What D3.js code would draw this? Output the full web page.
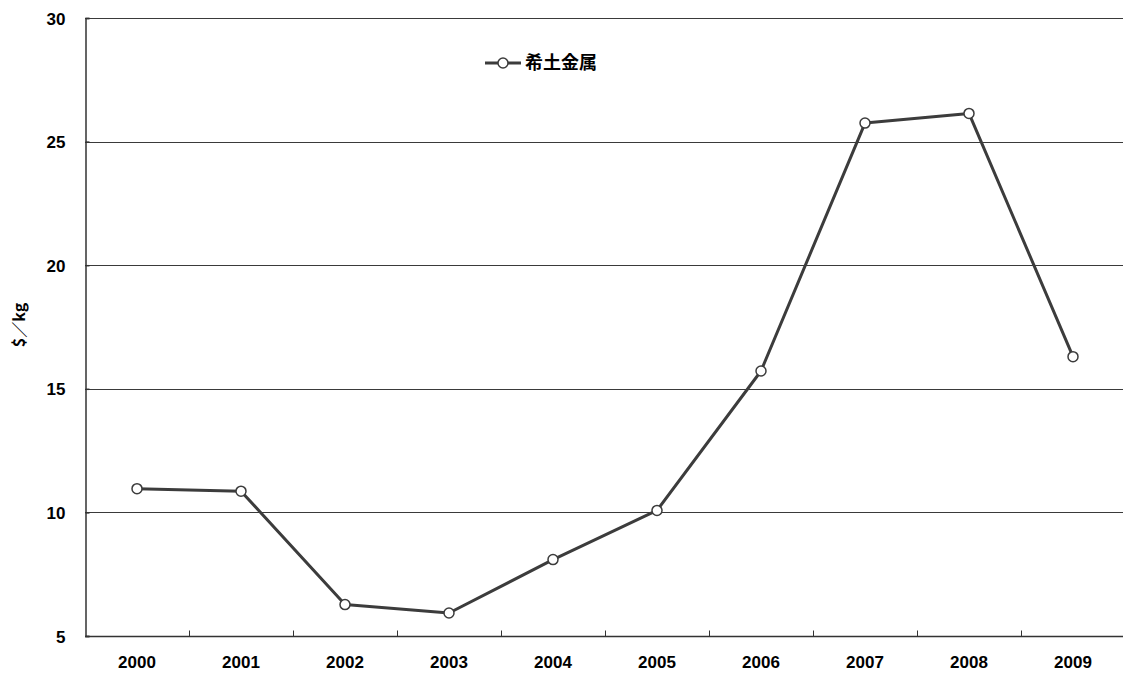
<!DOCTYPE html>
<html>
<head>
<meta charset="utf-8">
<script src="https://cdn.jsdelivr.net/npm/d3@7"></script>
<style>
  html, body { margin: 0; padding: 0; background: #fff; overflow: hidden; }
  svg { display: block; }
  .num { font-family: "Liberation Sans", Arial, sans-serif; font-weight: bold; font-size: 17px; fill: #000; }
  .cjk { font-family: "Noto Sans CJK JP", "Noto Sans CJK SC", sans-serif; font-weight: bold; fill: #000; }
</style>
</head>
<body>
<svg id="chart"></svg>
<script>
// Data
const years = ['2000', '2001', '2002', '2003', '2004', '2005', '2006', '2007', '2008', '2009'];
const prices = [10.96, 10.86, 6.27, 5.93, 8.09, 10.08, 15.72, 25.75, 26.14, 16.3];
const yTicks = [5, 10, 15, 20, 25, 30];
const seriesName = '希土金属';
const yLabel = '$／kg';

const width = 1123, height = 675;
const margin = { top: 18, right: -2, bottom: 39, left: 85 };

const svg = d3.select('#chart')
  .attr('width', width)
  .attr('height', height);

const x = d3.scaleBand()
  .domain(years)
  .range([margin.left, width - margin.right]);

const y = d3.scaleLinear()
  .domain([5, 30])
  .range([height - margin.bottom, margin.top]);

// Gridlines
svg.append('g')
  .selectAll('line')
  .data(yTicks.filter(d => d > 5))
  .join('line')
  .attr('x1', margin.left)
  .attr('x2', width)
  .attr('y1', d => Math.round(y(d)) + 0.5)
  .attr('y2', d => Math.round(y(d)) + 0.5)
  .attr('stroke', '#3a3a3a')
  .attr('stroke-width', 1);

// Y axis
const yAxis = svg.append('g')
  .attr('transform', `translate(${margin.left + 0.5},0)`)
  .call(d3.axisLeft(y).tickValues(yTicks).tickSize(-4).tickPadding(20));
yAxis.select('.domain').attr('stroke', '#333').attr('stroke-width', 1.5);
yAxis.selectAll('.tick line').attr('stroke', '#333').attr('stroke-width', 1.5);
yAxis.selectAll('.tick text').attr('class', 'num').attr('dy', '0.36em');

// X axis
const xTickPos = years.slice(1).map(d => x(d));
const xAxisG = svg.append('g')
  .attr('transform', `translate(0,${Math.round(y(5)) + 0.5})`);
xAxisG.append('line')
  .attr('x1', margin.left).attr('x2', width)
  .attr('stroke', '#333').attr('stroke-width', 1.5);
xAxisG.selectAll('.xtick')
  .data(xTickPos)
  .join('line')
  .attr('class', 'xtick')
  .attr('x1', d => Math.round(d) + 0.5).attr('x2', d => Math.round(d) + 0.5)
  .attr('y1', 0).attr('y2', -6)
  .attr('stroke', '#333').attr('stroke-width', 1);
xAxisG.selectAll('text')
  .data(years)
  .join('text')
  .attr('class', 'num')
  .attr('x', d => x(d) + x.bandwidth() / 2)
  .attr('y', 31)
  .attr('text-anchor', 'middle')
  .text(d => d);

// Y label
svg.append('text')
  .attr('class', 'cjk')
  .attr('transform', 'translate(25,325) rotate(-90)')
  .attr('text-anchor', 'middle')
  .style('font-size', '16px')
  .text(yLabel);

// Line
const line = d3.line()
  .x((d, i) => x(years[i]) + x.bandwidth() / 2)
  .y(d => y(d));

svg.append('path')
  .datum(prices)
  .attr('fill', 'none')
  .attr('stroke', '#3c3c3c')
  .attr('stroke-width', 3)
  .attr('stroke-linejoin', 'round')
  .attr('d', line);

svg.append('g')
  .selectAll('circle')
  .data(prices)
  .join('circle')
  .attr('cx', (d, i) => x(years[i]) + x.bandwidth() / 2)
  .attr('cy', d => y(d))
  .attr('r', 5)
  .attr('fill', '#fff')
  .attr('stroke', '#3c3c3c')
  .attr('stroke-width', 1.5);

// Legend
const legend = svg.append('g').attr('transform', 'translate(485,63)');
legend.append('line')
  .attr('x1', 0).attr('x2', 36)
  .attr('stroke', '#3c3c3c').attr('stroke-width', 3);
legend.append('circle')
  .attr('cx', 18).attr('r', 5)
  .attr('fill', '#fff').attr('stroke', '#3c3c3c').attr('stroke-width', 1.5);
legend.append('text')
  .attr('class', 'cjk')
  .attr('x', 40).attr('dy', '0.36em')
  .style('font-size', '18px')
  .text(seriesName);
</script>
</body>
</html>
